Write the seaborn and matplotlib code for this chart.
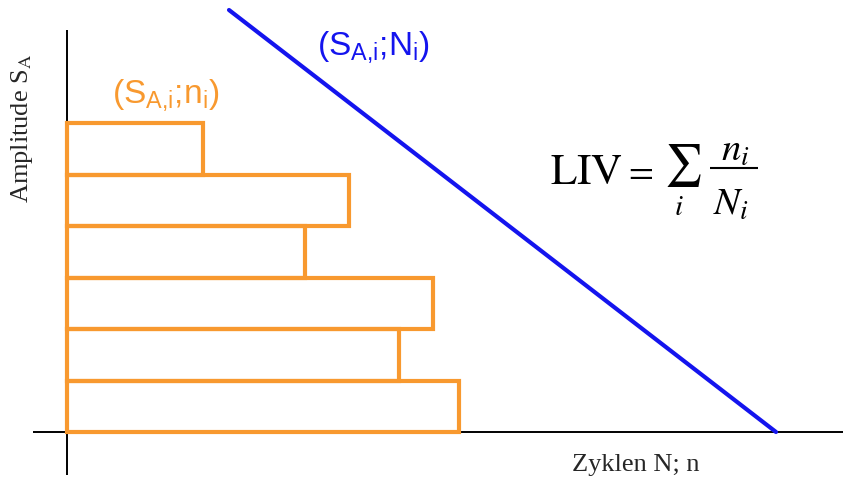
import matplotlib
matplotlib.use("Agg")
import matplotlib.pyplot as plt
import seaborn as sns
import pandas as pd

# ---- data (in drawing units) ----
amplitude_levels = [25.5, 77, 128.5, 180, 231.5, 283]   # S_A,i (bottom -> top)
cycles_n = [392, 332, 366, 238, 282, 136]                # n_i
woehler_N = [162, 709]                                    # N at line ends
woehler_S = [422, 0]                                      # S_A at line ends

orange = "#F8992F"
blue = "#1414EE"

sns.set_theme(style="white")
plt.rcParams["mathtext.fontset"] = "custom"
plt.rcParams["mathtext.rm"] = "Liberation Sans"
plt.rcParams["mathtext.it"] = "Liberation Sans:italic"

fig = plt.figure(figsize=(8.43, 4.78), dpi=100)
ax = fig.add_axes([0, 0, 1, 1])

df = pd.DataFrame({"S": amplitude_levels, "n": cycles_n})
sns.barplot(data=df, x="n", y="S", orient="h", native_scale=True, width=1.0,
            fill=False, color=orange, linewidth=3, errorbar=None, ax=ax, zorder=3)

sns.lineplot(x=woehler_N, y=woehler_S, color=blue, linewidth=3, ax=ax, zorder=4)

# axes lines
ax.plot([-34, 776], [0, 0], color="black", lw=1.4, zorder=1, solid_capstyle="butt")
ax.plot([0, 0], [-43, 402], color="black", lw=1.4, zorder=1, solid_capstyle="butt")

ax.set_xlim(-67, 776)
ax.set_ylim(-46, 432)
ax.set_axis_off()

ax.text(45, 329, r"(S$_\mathrm{A{,}i}$;n$_\mathrm{i}$)", color=orange, fontsize=24,
        family="Liberation Sans", ha="left", va="baseline", math_fontfamily="custom")
ax.text(250, 377, r"(S$_\mathrm{A{,}i}$;N$_\mathrm{i}$)", color=blue, fontsize=24,
        family="Liberation Sans", ha="left", va="baseline", math_fontfamily="custom")

# formula  LIV = sum_i n_i / N_i
fk = dict(color="black", ha="center", va="center", math_fontfamily="stix")
ax.text(519, 260.5, r"$\mathrm{LIV}$", fontsize=31, **fk)
ax.text(571.5, 261, r"$=$", fontsize=26, **fk)
ax.text(615.5, 267, r"$\sum$", fontsize=30, **fk)
ax.text(612, 225, r"$i$", fontsize=21, **fk)
ax.text(668.5, 282, r"$n_i$", fontsize=28, **fk)
ax.text(664, 228.5, r"$N_i$", fontsize=28, **fk)
ax.plot([643, 691], [264, 264], color="black", lw=1.5, solid_capstyle="butt")

ax.text(-45, 304, r"Amplitude S$_\mathrm{A}$", rotation=90, fontsize=19,
        family="Liberation Serif", ha="center", va="center", math_fontfamily="stix")
ax.text(572 - 67, -33, "Zyklen N; n", fontsize=19, family="Liberation Serif",
        ha="left", va="center")

fig.savefig("out.png", dpi=100)
